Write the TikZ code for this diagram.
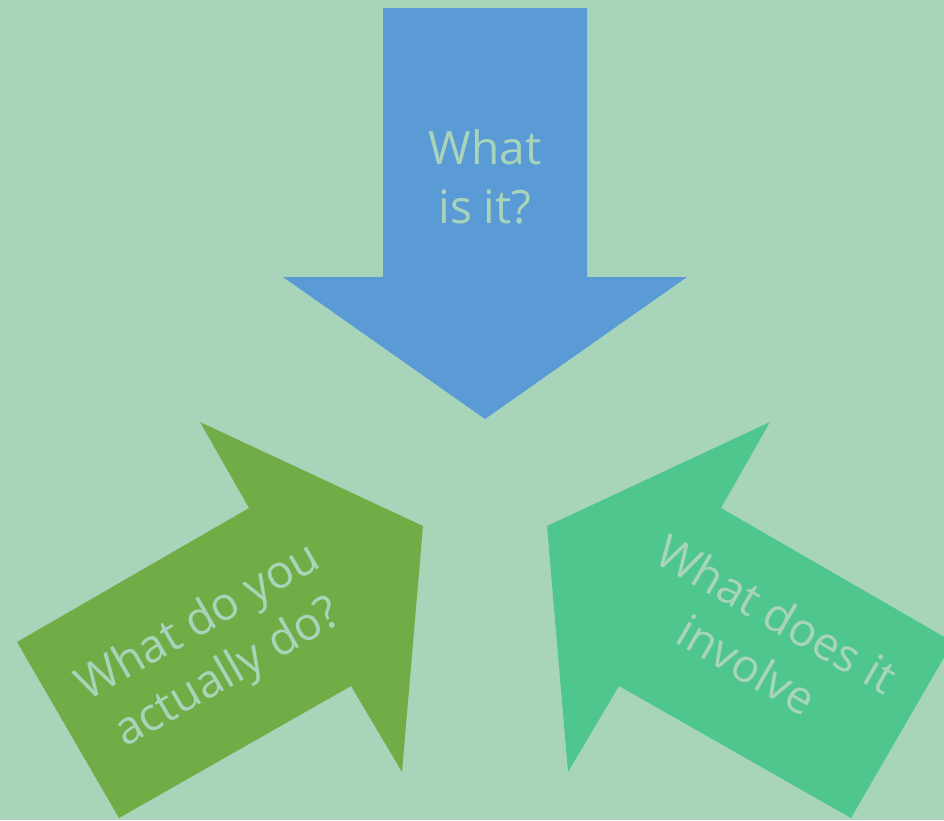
\documentclass[tikz,border=0pt]{standalone}
\usepackage{fontspec}
\setmainfont{Open Sans}
\definecolor{bgc}{HTML}{A8D5BA}
\definecolor{blueA}{HTML}{5B9BD5}
\definecolor{greenA}{HTML}{70AD47}
\definecolor{greenB}{HTML}{4FC68E}
\definecolor{txt}{HTML}{A8D5BA}
\tikzset{
  lbl/.style={text=txt, align=center, inner sep=0pt, font=\fontsize{46}{59}\selectfont},
}
\begin{document}
\begin{tikzpicture}[x=1pt,y=-1pt]
\useasboundingbox (0,0) rectangle (944,820);
\fill[bgc] (0,0) rectangle (944,820);
\begin{scope}
\clip (0,0) rectangle (944,820);
% top arrow
\fill[blueA] (383,8) -- (587,8) -- (587,277) -- (687,277) -- (485,419) -- (283,277) -- (383,277) -- cycle;
% left arrow
\fill[greenA] (17,642) -- (249,508) -- (200,422) -- (423,526) -- (402,772) -- (351,686) -- (119,818) -- cycle;
% right arrow
\fill[greenB] (953,642) -- (721,508) -- (770,422) -- (547,526) -- (568,772) -- (619,686) -- (851,818) -- cycle;
\end{scope}
\node[lbl] (t1) at (485,177) {What\\is it?};
\node[lbl, rotate=30] (t2) at (214,649) {What do you\\actually do?};
\node[lbl, rotate=-30] (t3) at (762,639) {What does it\\involve};
\end{tikzpicture}
\end{document}
